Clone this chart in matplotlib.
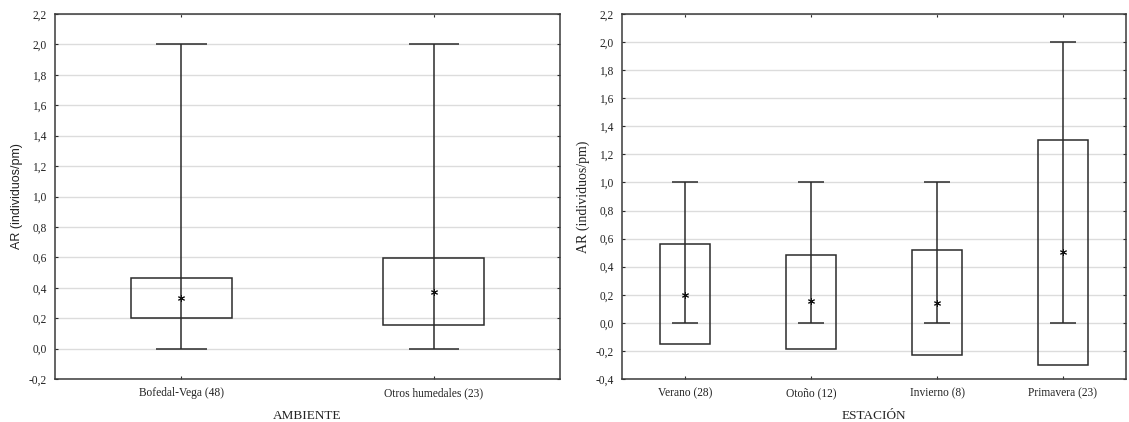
import matplotlib
matplotlib.use("Agg")
import matplotlib.pyplot as plt
import matplotlib.ticker as mticker

# ── Data ──────────────────────────────────────────────────────────────────
amb_labels = ["Bofedal-Vega (48)", "Otros humedales (23)"]
amb_mean = [0.33, 0.372]
amb_box_lo = [0.20, 0.152]
amb_box_hi = [0.462, 0.594]
amb_min = [0.0, 0.0]
amb_max = [2.0, 2.0]

est_labels = ["Verano (28)", "Otoño (12)", "Invierno (8)", "Primavera (23)"]
est_mean = [0.20, 0.155, 0.14, 0.505]
est_box_lo = [-0.154, -0.184, -0.229, -0.30]
est_box_hi = [0.565, 0.482, 0.522, 1.304]
est_min = [0.0, 0.0, 0.0, 0.0]
est_max = [1.0, 1.0, 1.0, 2.0]

SERIF = "Liberation Serif"
LINE = "#2b2b2b"
GRID = "#dcdcdc"

fig = plt.figure(figsize=(11.29, 4.22), dpi=100)
ax1 = fig.add_axes([55 / 1129, 43 / 422, 505 / 1129, 365 / 422])
ax2 = fig.add_axes([622 / 1129, 43 / 422, 504 / 1129, 365 / 422])

comma = mticker.FuncFormatter(lambda v, _: f"{v:.1f}".replace(".", ","))


def draw(ax, labels, mean, lo, hi, mn, mx, ylim, xlabel, ylabel_font):
    pos = list(range(1, len(labels) + 1))
    ax.set_axisbelow(True)
    ax.grid(axis="y", color=GRID, lw=1)
    ax.bar(pos, [h - l for h, l in zip(hi, lo)], bottom=lo, width=0.40,
           fill=False, edgecolor=LINE, lw=1.1, zorder=2)
    ax.vlines(pos, mn, mx, color=LINE, lw=1.1, zorder=3)
    ax.hlines(mn, [p - 0.1 for p in pos], [p + 0.1 for p in pos], color=LINE, lw=1.1, zorder=3)
    ax.hlines(mx, [p - 0.1 for p in pos], [p + 0.1 for p in pos], color=LINE, lw=1.1, zorder=3)
    ax.plot(pos, mean, ls="none", marker=(6, 2, 0), ms=5, mew=0.7, color="#111111", zorder=4)

    ax.set_xlim(0.5, len(labels) + 0.5)
    ax.set_ylim(*ylim)
    ax.yaxis.set_major_locator(mticker.MultipleLocator(0.2))
    ax.yaxis.set_major_formatter(comma)
    ax.set_xticks(pos)
    ax.set_xticklabels(labels, family=SERIF, fontsize=8.3, color="#222222")
    for t in ax.get_yticklabels():
        t.set_family(SERIF)
        t.set_fontsize(8.3)
        t.set_color("#222222")
    ax.tick_params(direction="in", length=2.5, width=0.8, color=LINE,
                   top=True, right=True, pad=6)
    for s in ax.spines.values():
        s.set_color("#3a3a3a")
        s.set_linewidth(1.1)
    ax.set_xlabel(xlabel, family=SERIF, fontsize=9.5, color="#222222", labelpad=8)
    ax.set_ylabel("AR (individuos/pm)", family=ylabel_font[0], fontsize=ylabel_font[1],
                  color="#222222", labelpad=4)


draw(ax1, amb_labels, amb_mean, amb_box_lo, amb_box_hi, amb_min, amb_max,
     (-0.2, 2.2), "AMBIENTE", ("Liberation Sans", 9))
draw(ax2, est_labels, est_mean, est_box_lo, est_box_hi, est_min, est_max,
     (-0.4, 2.2), "ESTACIÓN", (SERIF, 10))

fig.savefig("out.png", dpi=100)
